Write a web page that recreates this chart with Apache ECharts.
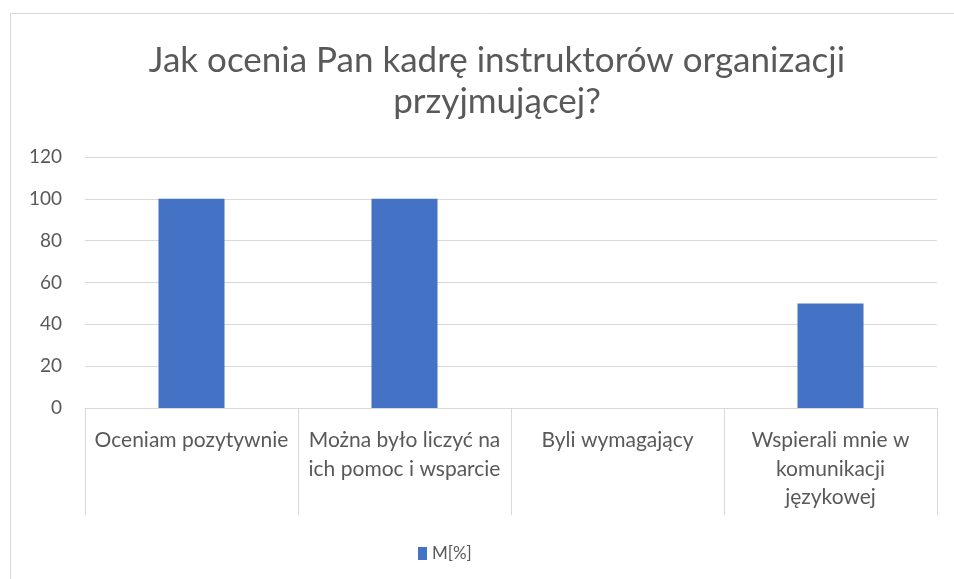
<!DOCTYPE html>
<html>
<head>
<meta charset="utf-8">
<script src="https://cdn.jsdelivr.net/npm/echarts@6/dist/echarts.min.js"></script>
<style>
  html, body { margin: 0; padding: 0; background: #fff; }
  #chart { width: 954px; height: 579px; }
</style>
</head>
<body>
<div id="chart"></div>
<script>
// dane wykresu
const categories = [
  'Oceniam pozytywnie',
  'Można było liczyć na\nich pomoc i wsparcie',
  'Byli wymagający',
  'Wspierali mnie w\nkomunikacji\njęzykowej'
]
const seriesName = 'M[%]'
const values = [100, 100, 0, 50]
const yTicks = [0, 20, 40, 60, 80, 100, 120]

const chart = echarts.init(document.getElementById('chart'))
const textColor = '#595959'
const lineColor = '#d9d9d9'

chart.setOption({
  animation: false,
  textStyle: { fontFamily: 'Lato' },
  // ramka wykresu
  graphic: [
    {
      type: 'rect',
      shape: { x: 10.5, y: 13.5, width: 960, height: 600 },
      style: { fill: 'none', stroke: lineColor, lineWidth: 1 },
      silent: true
    }
  ],
  title: {
    text: 'Jak ocenia Pan kadrę instruktorów organizacji\nprzyjmującej?',
    left: 492,
    top: 35,
    textAlign: 'center',
    textStyle: {
      color: textColor,
      fontSize: 35,
      fontWeight: 'normal',
      lineHeight: 41
    }
  },
  legend: {
    data: [seriesName],
    left: 413,
    top: 540,
    itemWidth: 9,
    itemHeight: 13,
    itemGap: 6,
    icon: 'rect',
    textStyle: { color: textColor, fontSize: 17 }
  },
  grid: {
    left: 85,
    right: 17,
    top: 157,
    bottom: 171,
    containLabel: false
  },
  xAxis: {
    type: 'category',
    data: categories,
    axisLine: { lineStyle: { color: lineColor, width: 1 } },
    axisTick: { show: true, length: 107, lineStyle: { color: lineColor } },
    axisLabel: {
      color: textColor,
      fontSize: 21,
      lineHeight: 28.5,
      margin: 18,
      interval: 0
    }
  },
  yAxis: {
    type: 'value',
    min: yTicks[0],
    max: yTicks[yTicks.length - 1],
    interval: yTicks[1] - yTicks[0],
    axisLine: { show: false },
    axisTick: { show: false },
    axisLabel: { color: textColor, fontSize: 19, margin: 23 },
    splitLine: { lineStyle: { color: lineColor, width: 1 } }
  },
  series: [
    {
      name: seriesName,
      type: 'bar',
      data: values,
      barWidth: '31%',
      itemStyle: { color: '#4472C4' }
    }
  ]
})
</script>
</body>
</html>
